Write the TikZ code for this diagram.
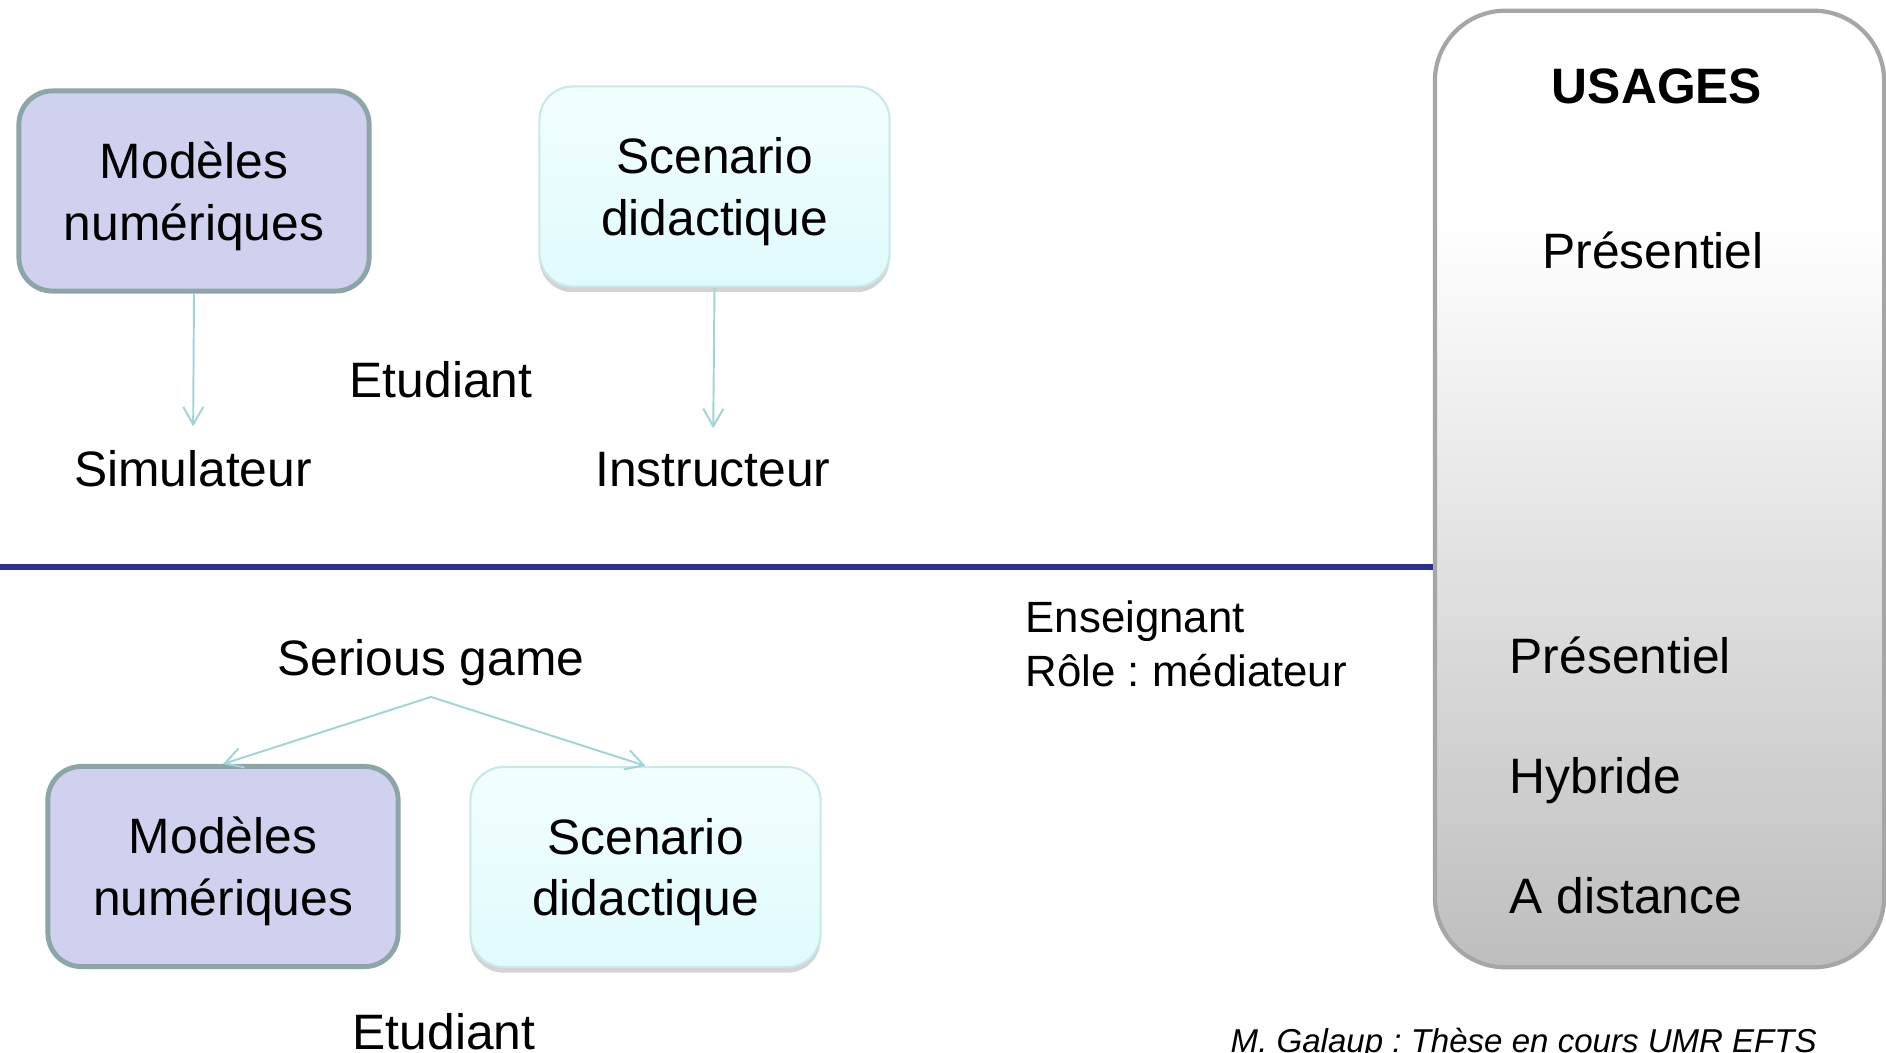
\documentclass[tikz,border=0pt]{standalone}
\usepackage{fontspec}
\setmainfont{Liberation Sans}
\usetikzlibrary{arrows.meta,shadows}
\frenchspacing
\definecolor{lavande}{RGB}{208,209,238}
\definecolor{bordgris}{RGB}{140,165,166}
\definecolor{cielhaut}{RGB}{243,255,255}
\definecolor{cielbas}{RGB}{224,250,252}
\definecolor{bordciel}{RGB}{200,232,234}
\definecolor{fleche}{RGB}{160,212,216}
\definecolor{marine}{RGB}{46,49,146}
\definecolor{panneau}{RGB}{166,166,166}
\definecolor{grisbas}{RGB}{190,190,190}
\pgfdeclareverticalshading{usage}{100bp}{color(0bp)=(grisbas); color(25bp)=(grisbas); color(64bp)=(white); color(100bp)=(white)}
\newcommand\grand{\fontsize{14.15pt}{17.6pt}\selectfont}

\begin{document}
\begin{tikzpicture}[x=0.01cm, y=-0.01cm,
  modele/.style={draw=bordgris, line width=1.4pt, fill=lavande, rounded corners=9.5pt,
    minimum width=3.5cm, minimum height=2cm, align=center, font=\grand, text depth=0pt},
  scenario/.style={draw=bordciel, line width=0.6pt, top color=cielhaut, bottom color=cielbas,
    rounded corners=9.5pt, minimum width=3.5cm, minimum height=2cm, align=center, font=\grand,
    text depth=0pt, drop shadow={shadow xshift=0pt, shadow yshift=-1.6pt, opacity=.35}},
  txt/.style={font=\grand, inner sep=0pt},
  arr/.style={fleche, line width=.55pt, -{Straight Barb[length=5pt,width=5.7pt]}}]
  \useasboundingbox (0,0) rectangle (1886,1052);

  % usages
  \node[draw=panneau, line width=1.2pt, rounded corners=20pt, shade, shading=usage,
    minimum width=4.49cm, minimum height=9.56cm] (usages) at (1659.5,489) {};
  \node[txt, font=\bfseries\grand, anchor=base] (titre) at (1657,104) {USAGES};
  \node[txt, anchor=base] (pres1) at (1653,269) {Présentiel};
  \node[txt, anchor=base west] (pres2) at (1509,673) {Présentiel};
  \node[txt, anchor=base west] (hyb) at (1509,793) {Hybride};
  \node[txt, anchor=base west] (dist) at (1509,913) {A distance};

  % haut
  \node[modele] (mod1) at (194,191) {Modèles\\numériques};
  \node[scenario] (scn1) at (714.5,186.5) {Scenario\\didactique};
  \node[txt, anchor=base] (sim) at (193,486) {Simulateur};
  \node[txt, anchor=base] (etu1) at (441,397) {Etudiant};
  \node[txt, anchor=base] (ins) at (713,486) {Instructeur};
  \path[arr, shorten >=6.5pt]
  (mod1.south) edge (sim.north)
  (scn1.south) edge (ins.north);

  \coordinate (bord) at (0,567);
  \draw[marine, line width=1.7pt] (bord) -- (bord -| usages.west);

  % bas
  \node[txt, anchor=base] (sg) at (431,675) {Serious game};
  \node[modele] (mod2) at (223,866.5) {Modèles\\numériques};
  \node[scenario] (scn2) at (645.5,867) {Scenario\\didactique};
  \node[txt, anchor=base] (etu2) at (444,1049) {Etudiant};
  \path[arr] ([yshift=-3.1pt]sg.south) edge (mod2.north) edge (scn2.north);

  \node[txt, align=left, anchor=north west, font=\fontsize{12.45pt}{15.4pt}\selectfont]
    (ens) at (1025,600) {Enseignant\\Rôle : médiateur};
  \node[inner sep=0pt, anchor=base west, font=\fontsize{9.4pt}{11pt}\selectfont\itshape]
    (ref) at (1230,1052) {M. Galaup : Thèse en cours UMR EFTS};
\end{tikzpicture}
\end{document}
